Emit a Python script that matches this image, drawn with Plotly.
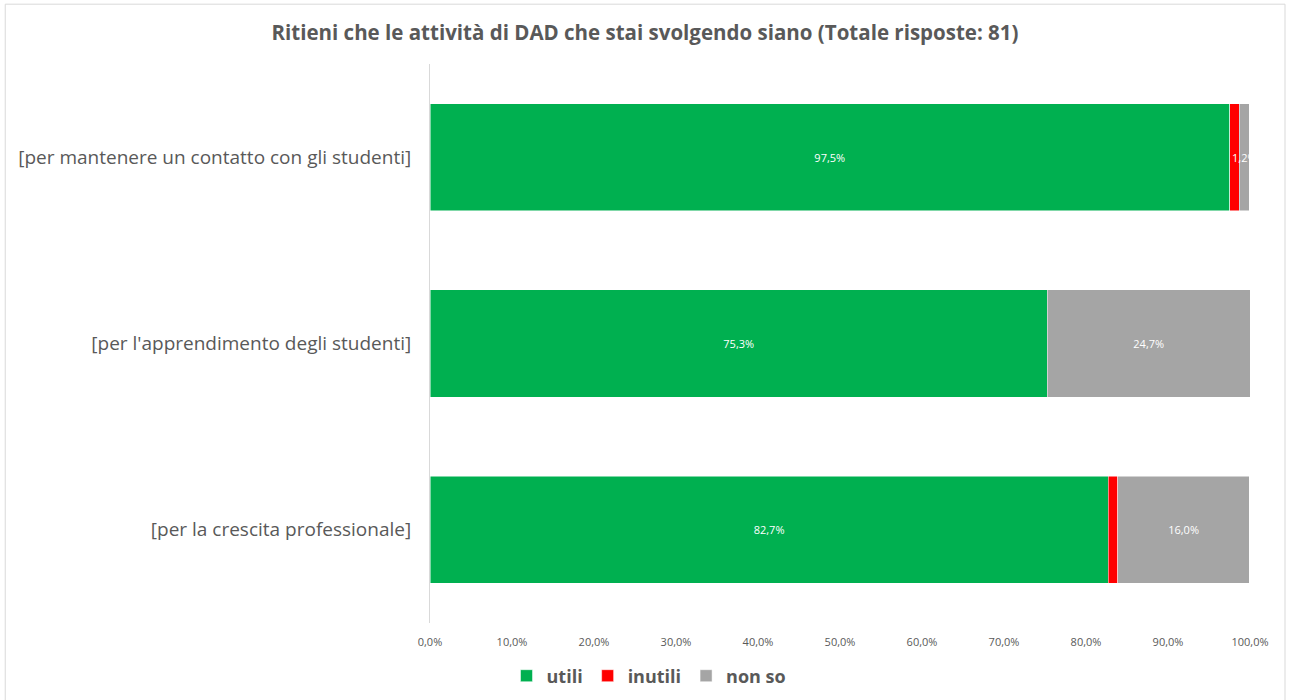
import plotly.graph_objects as go

categories = ["[per mantenere un contatto con gli studenti]",
              "[per l'apprendimento degli studenti]",
              "[per la crescita professionale]"]
series_names = ["utili", "inutili", "non so"]
utili = [97.5, 75.3, 82.7]
inutili = [1.2, 0.0, 1.2]
non_so = [1.2, 24.7, 16.0]
show_utili = [True, True, True]
show_inutili = [False, False, False]
show_non_so = [False, True, True]
colors = ["#00B050", "#FF0000", "#A5A5A5"]
x_ticks = [0, 10, 20, 30, 40, 50, 60, 70, 80, 90, 100]

FONT = "Open Sans"

def fmt(v):
    return f"{v:.1f}".replace(".", ",") + "%"

fig = go.Figure()
for name, vals, show, col in zip(series_names, [utili, inutili, non_so],
                                 [show_utili, show_inutili, show_non_so], colors):
    fig.add_trace(go.Bar(
        y=categories, x=vals, name=name, orientation="h",
        marker=dict(color=col, line=dict(color="white", width=0.5)),
        text=[fmt(v) if s else "" for v, s in zip(vals, show)],
        textposition="inside", insidetextanchor="middle",
        textfont=dict(color="white", size=11, family=FONT),
        hoverinfo="x+name",
    ))

# small label on first row (overflows the thin red/grey segment)
fig.add_annotation(x=utili[0] + inutili[0] * 0.1, y=categories[0], text=fmt(non_so[0]),
                   showarrow=False, xanchor="left", font=dict(color="white", size=11, family=FONT))

fig.add_shape(type="rect", xref="paper", yref="paper",
              x0=-0.518, x1=1.0427, y0=-0.2, y1=1.107,
              line=dict(color="#D9D9D9", width=1), layer="below")

fig.update_layout(
    width=1289, height=700,
    barmode="stack", bargap=0.425,
    separators=",.",
    margin=dict(l=430, r=39, t=64, b=77, autoexpand=False),
    paper_bgcolor="white", plot_bgcolor="white",
    font=dict(family=FONT, color="#595959"),
    title=dict(text="<b>Ritieni che le attività di DAD che stai svolgendo siano (Totale risposte: 81)</b>",
               x=645 / 1289, xref="container", xanchor="center", y=1 - 33 / 700, yref="container",
               yanchor="middle",
               font=dict(size=20.5, color="#595959", family=FONT)),
    showlegend=True,
    legend=dict(orientation="h", x=649 / 1289, xref="container", xanchor="center",
                y=1 - 676 / 700, yref="container", yanchor="middle",
                traceorder="normal",
                font=dict(size=18, color="#595959", family=FONT, weight="bold"),
                itemclick=False, itemwidth=30, tracegroupgap=0),
    xaxis=dict(range=[0, 100], tickvals=x_ticks, ticktext=[fmt(v) for v in x_ticks],
               showgrid=False, zeroline=False, showline=False,
               ticks="", ticklabelstandoff=11,
               tickfont=dict(size=11, color="#595959")),
    yaxis=dict(autorange="reversed", showgrid=False, showline=True,
               linecolor="#D9D9D9", linewidth=1, ticks="", ticklabelstandoff=14,
               tickfont=dict(size=19, color="#595959")),
)

fig.write_html("out.html")
